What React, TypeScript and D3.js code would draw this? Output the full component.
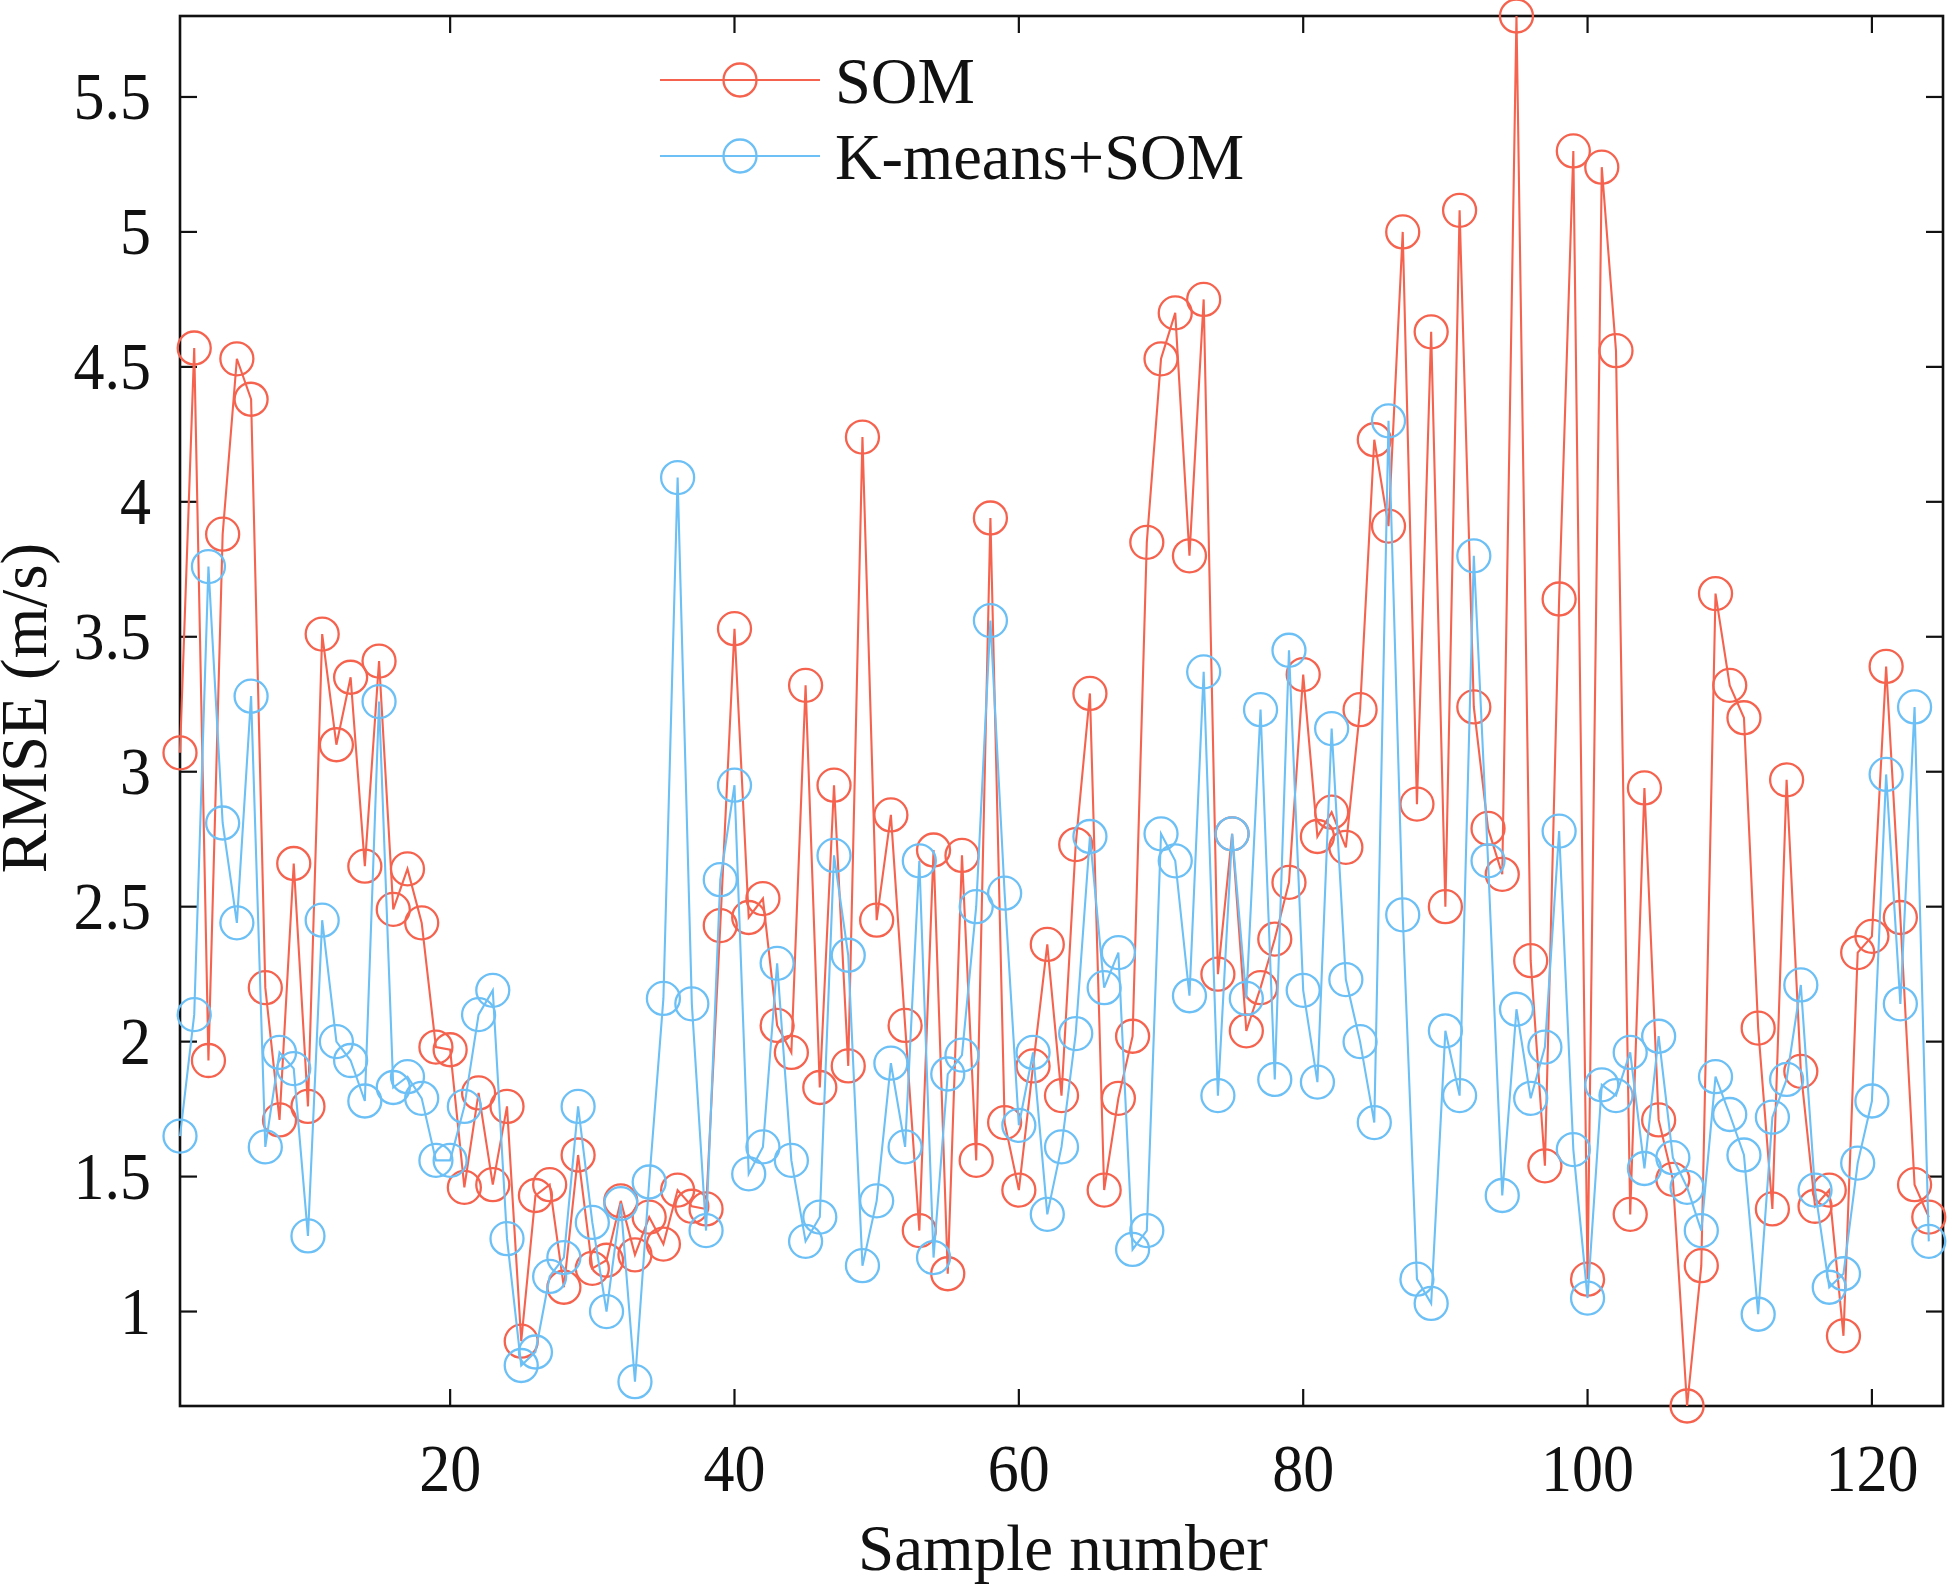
import React from "react";
import * as d3 from "d3";

const somValues = [3.07,4.57,1.93,3.88,4.53,4.38,2.2,1.71,2.66,1.76,3.51,3.1,3.35,2.65,3.41,2.49,2.64,2.44,1.98,1.97,1.46,1.81,1.47,1.76,0.89,1.43,1.47,1.09,1.58,1.16,1.19,1.41,1.21,1.35,1.25,1.45,1.39,1.38,2.43,3.53,2.46,2.53,2.06,1.96,3.32,1.83,2.95,1.91,4.24,2.45,2.84,2.06,1.3,2.71,1.14,2.69,1.56,3.94,1.7,1.45,1.91,2.36,1.8,2.73,3.29,1.45,1.79,2.02,3.85,4.53,4.7,3.8,4.75,2.25,2.77,2.04,2.2,2.38,2.59,3.36,2.76,2.85,2.72,3.23,4.23,3.91,5.0,2.88,4.63,2.5,5.08,3.24,2.79,2.62,5.8,2.3,1.54,3.64,5.3,1.12,5.24,4.56,1.36,2.94,1.71,1.49,0.65,1.17,3.66,3.32,3.2,2.05,1.38,2.97,1.89,1.39,1.45,0.91,2.33,2.39,3.39,2.46,1.47,1.35];
const kmeansSomValues = [1.65,2.1,3.76,2.81,2.44,3.28,1.61,1.96,1.9,1.28,2.45,2.0,1.93,1.78,3.26,1.83,1.87,1.79,1.56,1.56,1.76,2.1,2.19,1.27,0.8,0.85,1.13,1.2,1.76,1.33,1.0,1.4,0.74,1.48,2.16,4.09,2.14,1.3,2.6,2.95,1.51,1.61,2.29,1.56,1.26,1.35,2.69,2.32,1.17,1.41,1.92,1.61,2.67,1.2,1.88,1.95,2.5,3.56,2.55,1.69,1.96,1.36,1.61,2.03,2.76,2.2,2.33,1.23,1.3,2.77,2.67,2.17,3.37,1.8,2.77,2.16,3.23,1.86,3.45,2.19,1.85,3.16,2.23,2.0,1.7,4.3,2.47,1.12,1.03,2.04,1.8,3.8,2.67,1.43,2.12,1.79,1.98,2.78,1.6,1.05,1.84,1.8,1.96,1.53,2.02,1.57,1.46,1.3,1.87,1.73,1.58,0.99,1.72,1.86,2.21,1.45,1.09,1.14,1.55,1.78,2.99,2.14,3.24,1.26];
const xTicks = [20, 40, 60, 80, 100, 120];
const yTicks = [1, 1.5, 2, 2.5, 3, 3.5, 4, 4.5, 5, 5.5];
const seriesNames = ["SOM", "K-means+SOM"];
const seriesColors = ["#f5634f", "#6cc0f5"];

const FONT = '"Liberation Serif", "Times New Roman", serif';
const L = 180, R = 1943, T = 16, B = 1406, TICK = 17, FS = 62, LABEL_FS = 65, LEGEND_FS = 64.5, STRETCH = 1.08;

export default function App() {
  const x = d3.scaleLinear().domain([1, 125]).range([L, R]);
  const y = d3.scaleLinear().domain([0.65, 5.8]).range([B, T]);
  const line = d3.line<number>().x((_, i) => x(i + 1)).y((d) => y(d));
  const series = [somValues, kmeansSomValues];
  return (
    <svg width={1949} height={1584} style={{ position: "absolute", left: 0, top: 0, background: "#fff" }} fontFamily={FONT}>
      <rect x={L} y={T} width={R - L} height={B - T} fill="none" stroke="#111" strokeWidth={2.6} />
      {xTicks.map((t) => (
        <g key={t} stroke="#111" strokeWidth={2.2}>
          <line x1={x(t)} x2={x(t)} y1={B} y2={B - TICK} />
          <line x1={x(t)} x2={x(t)} y1={T} y2={T + TICK} />
          <text transform={`translate(${x(t)},1491) scale(1,${STRETCH})`} textAnchor="middle" fontSize={FS} fill="#111" stroke="none">{t}</text>
        </g>
      ))}
      {yTicks.map((t) => (
        <g key={t} stroke="#111" strokeWidth={2.2}>
          <line x1={L} x2={L + TICK} y1={y(t)} y2={y(t)} />
          <line x1={R} x2={R - TICK} y1={y(t)} y2={y(t)} />
          <text transform={`translate(151,${y(t) + 22}) scale(1,${STRETCH})`} textAnchor="end" fontSize={FS} fill="#111" stroke="none">{t}</text>
        </g>
      ))}
      <text x={1063} y={1570} textAnchor="middle" fontSize={LABEL_FS} fill="#111">Sample number</text>
      <text transform="translate(46,708) rotate(-90)" textAnchor="middle" fontSize={LABEL_FS} fill="#111">RMSE (m/s)</text>
      {series.map((vals, s) => (
        <g key={s} fill="none" stroke={seriesColors[s]}>
          <path d={line(vals) ?? ""} strokeWidth={2.1} />
          {vals.map((v, i) => (
            <circle key={i} cx={x(i + 1)} cy={y(v)} r={16.5} strokeWidth={2.3} />
          ))}
        </g>
      ))}
      {seriesNames.map((name, s) => {
        const ly = 80 + s * 76;
        return (
          <g key={name}>
            <line x1={660} x2={820} y1={ly} y2={ly} stroke={seriesColors[s]} strokeWidth={2.2} />
            <circle cx={740} cy={ly} r={16.5} fill="none" stroke={seriesColors[s]} strokeWidth={2.3} />
            <text x={835} y={ly + 23} fontSize={LEGEND_FS} fill="#111">{name}</text>
          </g>
        );
      })}
    </svg>
  );
}
